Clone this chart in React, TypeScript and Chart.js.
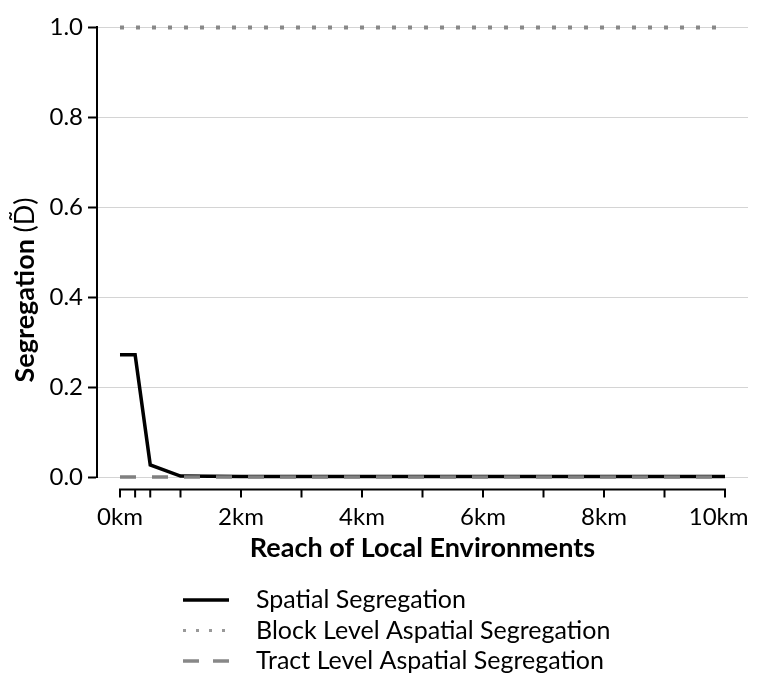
import React, { useEffect, useRef } from "react";
import { Chart, registerables } from "chart.js";

Chart.register(...registerables);

const reaches = [0, 0.25, 0.5, 1, 2, 3, 4, 5, 6, 7, 8, 9, 10];
const spatialSegregation = [0.272, 0.272, 0.027, 0.002, 0.001, 0.001, 0.001, 0.001, 0.001, 0.001, 0.001, 0.001, 0.001];
const blockAspatial = [1, 1, 1, 1, 1, 1, 1, 1, 1, 1, 1, 1, 1];
const tractAspatial = [0, 0, 0, 0, 0, 0, 0, 0, 0, 0, 0, 0, 0];
const xLabelTicks = [0, 2, 4, 6, 8, 10];
const yTicks = [0, 0.2, 0.4, 0.6, 0.8, 1.0];

const FONT = "Lato, 'Open Sans', sans-serif";

const legendItems = [
  { label: "Spatial Segregation", color: "#000000", width: 3.5, dash: [] as number[] },
  { label: "Block Level Aspatial Segregation", color: "#999999", width: 3, dash: [3, 10] },
  { label: "Tract Level Aspatial Segregation", color: "#888888", width: 3.5, dash: [16, 14] },
];

const customPlugin = {
  id: "custom",
  afterDraw(chart: any) {
    const ctx = chart.ctx;
    const x = chart.scales.x;
    const area = chart.chartArea;
    ctx.save();
    const axisY = area.bottom + 12.5;
    const x0 = x.getPixelForValue(reaches[0]);
    const x1 = x.getPixelForValue(reaches[reaches.length - 1]);
    ctx.strokeStyle = "#000";
    ctx.lineWidth = 2;
    ctx.lineCap = "butt";
    ctx.beginPath();
    ctx.moveTo(x0 - 1, axisY);
    ctx.lineTo(x1 + 1, axisY);
    ctx.stroke();
    const tickVals = Array.from(new Set([...reaches, ...xLabelTicks]));
    tickVals.forEach((v) => {
      const px = x.getPixelForValue(v);
      ctx.beginPath();
      ctx.moveTo(px, axisY);
      ctx.lineTo(px, axisY + 8);
      ctx.stroke();
    });
    // x tick labels (kept inside the canvas)
    ctx.fillStyle = "#000";
    ctx.font = `24px ${FONT}`;
    ctx.textBaseline = "middle";
    ctx.textAlign = "center";
    xLabelTicks.forEach((v) => {
      const label = `${v}km`;
      const w = ctx.measureText(label).width;
      let px = x.getPixelForValue(v);
      px = Math.min(px, chart.width - w / 2 - 0.5);
      ctx.fillText(label, px, axisY + 28);
    });
    // y title
    ctx.translate(17, 282);
    ctx.rotate(-Math.PI / 2);
    ctx.textBaseline = "middle";
    const boldFont = `bold 27px ${FONT}`;
    const normFont = `27px ${FONT}`;
    const p1 = "Segregation ";
    const p2 = "(D\u0303)";
    ctx.font = boldFont;
    const w1 = ctx.measureText(p1).width;
    ctx.font = normFont;
    const w2 = ctx.measureText(p2).width;
    const start = -(w1 + w2) / 2;
    ctx.font = boldFont;
    ctx.textAlign = "left";
    ctx.fillText(p1, start, 0);
    ctx.font = normFont;
    ctx.fillText(p2, start + w1, 0);
    ctx.restore();

    ctx.save();
    const rows = [592, 622.5, 653];
    legendItems.forEach((it, i) => {
      const yy = rows[i];
      ctx.strokeStyle = it.color;
      ctx.lineWidth = it.width;
      ctx.setLineDash(it.dash);
      ctx.beginPath();
      ctx.moveTo(175, yy);
      ctx.lineTo(221, yy);
      ctx.stroke();
      ctx.setLineDash([]);
      ctx.fillStyle = "#000";
      ctx.font = `25px ${FONT}`;
      ctx.textBaseline = "middle";
      ctx.textAlign = "left";
      ctx.fillText(it.label, 248, yy);
    });
    ctx.restore();
  },
};

export default function App() {
  const ref = useRef<HTMLCanvasElement>(null);
  useEffect(() => {
    if (!ref.current) return;
    const chart = new Chart(ref.current, {
      type: "line",
      data: {
        datasets: [
          {
            label: "Spatial Segregation",
            data: reaches.map((r, i) => ({ x: r, y: spatialSegregation[i] })),
            borderColor: "#000000",
            borderWidth: 3.5,
            pointRadius: 0,
            tension: 0,
            order: 3,
            clip: false as any,
          },
          {
            label: "Block Level Aspatial Segregation",
            data: reaches.map((r, i) => ({ x: r, y: blockAspatial[i] })),
            borderColor: "#888888",
            borderWidth: 4,
            borderDash: [4, 12],
            pointRadius: 0,
            order: 2,
            clip: false as any,
          },
          {
            label: "Tract Level Aspatial Segregation",
            data: reaches.map((r, i) => ({ x: r, y: tractAspatial[i] })),
            borderColor: "#808080",
            borderWidth: 3.5,
            borderDash: [16, 16],
            pointRadius: 0,
            order: 1,
            clip: false as any,
          },
        ],
      },
      options: {
        animation: false,
        responsive: true,
        maintainAspectRatio: false,
        layout: { padding: { top: 16, right: 1, bottom: 110.6, left: 0 } },
        plugins: { legend: { display: false }, tooltip: { enabled: false } },
        scales: {
          x: {
            type: "linear",
            min: -0.38,
            max: 10.38,
            afterBuildTicks: (s: any) => {
              s.ticks = xLabelTicks.map((v) => ({ value: v }));
            },
            afterFit: (s: any) => {
              s.height = 87.4;
              s.paddingLeft = 0;
              s.paddingRight = 0;
            },
            grid: { display: false, drawTicks: false },
            border: { display: false },
            ticks: { display: false },
            title: {
              display: true,
              text: "Reach of Local Environments",
              color: "#000",
              font: { family: FONT, size: 27, weight: "bold" },
              padding: { top: 0, bottom: 0 },
            },
          },
          y: {
            min: 0,
            max: 1,
            afterBuildTicks: (s: any) => {
              s.ticks = yTicks.map((v) => ({ value: v }));
            },
            afterFit: (s: any) => {
              s.width = 89;
            },
            grid: {
              color: "#d4d4d4",
              lineWidth: 1,
              tickColor: "#000",
              tickWidth: 2,
              tickLength: 9,
            },
            border: { display: true, color: "#000", width: 2 },
            ticks: {
              padding: 5,
              color: "#000",
              font: { family: FONT, size: 24 },
              callback: (v: any) => Number(v).toFixed(1),
            },
          },
        },
      },
      plugins: [customPlugin],
    });
    return () => chart.destroy();
  }, []);
  return (
    <div style={{ width: 741, height: 667, position: "relative" }}>
      <canvas ref={ref} style={{ display: "block" }} />
    </div>
  );
}
